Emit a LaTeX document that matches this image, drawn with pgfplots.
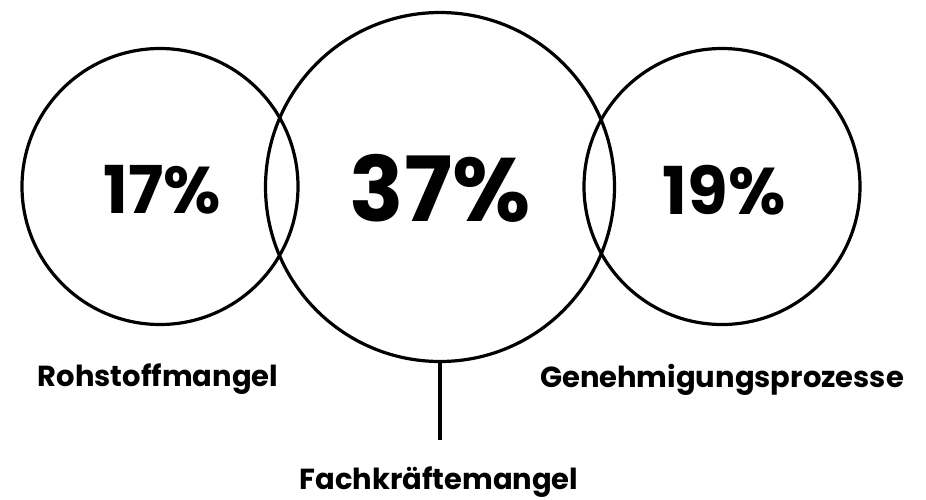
\documentclass[border=0pt]{standalone}
\usepackage{pgfplots}
\pgfplotsset{compat=1.18}
\usepackage{fontspec}
\setmainfont{Poppins}
\begin{document}
\begin{tikzpicture}
\begin{axis}[
  width=926pt, height=499pt, scale only axis, hide axis,
  xmin=0, xmax=926, ymin=0, ymax=499, y dir=reverse, clip=false,
]
% circles (centre x, centre y, radius in px)
\addplot[scatter, only marks, mark=o, line width=3.2pt,
  scatter/use mapped color={draw=black, fill=none},
  mark options={line width=3.2pt},
  visualization depends on={\thisrow{r}\as\rad},
  scatter/@pre marker code/.append style={/tikz/mark size=\rad, /tikz/line width=3.2pt}]
  table {
x y r
160 186.5 138
440 187 174.5
722 186.5 138
};
% connector line
\addplot[black, line width=3.2pt, mark=none] coordinates {(440,362) (440,440)};
% small percentages
\addplot[draw=none, mark=none, nodes near coords, point meta=explicit symbolic,
  nodes near coords style={anchor=center, inner sep=0pt, font=\bfseries\fontsize{66}{66}\selectfont}]
  table[meta=label] {
x y label
162 190 17\%
724 190 19\%
};
% big percentage
\addplot[draw=none, mark=none, nodes near coords, point meta=explicit symbolic,
  nodes near coords style={anchor=center, inner sep=0pt, font=\bfseries\fontsize{90}{90}\selectfont}]
  table[meta=label] {
x y label
440 188 37\%
};
% category labels
\addplot[draw=none, mark=none, nodes near coords, point meta=explicit symbolic,
  nodes near coords style={anchor=base, inner sep=0pt, font=\bfseries\fontsize{29}{29}\selectfont}]
  table[meta=label] {
x y label
158 386 Rohstoffmangel
722 387 Genehmigungsprozesse
439 489 Fachkräftemangel
};
\end{axis}
\pgfresetboundingbox
\path[use as bounding box] (0,0) rectangle (926pt,499pt);
\end{tikzpicture}
\end{document}
